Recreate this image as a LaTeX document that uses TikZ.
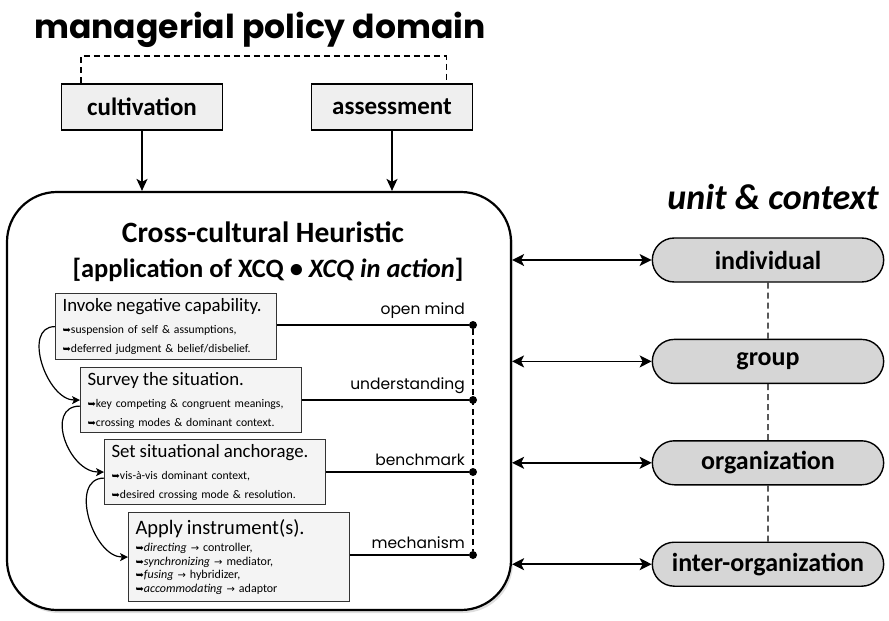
\documentclass[tikz,border=0pt]{standalone}
\usepackage{fontspec}
\setmainfont{Carlito}
\newfontfamily\roundfont{Poppins}
\newfontfamily\dejavu{DejaVu Sans}
\usetikzlibrary{arrows.meta,positioning,shadows,shapes.misc}

\definecolor{panelgray}{HTML}{EFEFEF}
\definecolor{stonegray}{HTML}{D6D6D6}
\newcommand{\hookarr}{{\dejavu\fontsize{10}{10}\selectfont ➥}}
\newcommand{\yields}{{\dejavu\fontsize{10}{10}\selectfont →}}
\newcommand{\steplead}[2][18.8]{{\fontsize{#1}{#1}\selectfont #2}\\[3pt]}

\begin{document}
\begin{tikzpicture}[
  x=1pt, y=-1pt,
  policy/.style={rectangle, draw, line width=1.6pt, fill=panelgray, minimum width=161pt, minimum height=46pt, font=\fontsize{25}{28}\selectfont\bfseries},
  stepbox/.style={rectangle, draw=black!80, line width=1.2pt, fill=panelgray!70, anchor=north west, align=left, text width=207pt, inner xsep=7pt, inner ysep=3pt, font=\fontsize{11.7}{19}\selectfont},
  unit/.style={rounded rectangle, draw, line width=1.4pt, fill=stonegray, minimum width=238pt, minimum height=44pt, font=\fontsize{26}{28}\selectfont\bfseries},
  tag/.style={font=\roundfont\fontsize{15.5}{17}\selectfont, inner sep=1pt},
  heading/.style={font=\roundfont\bfseries\fontsize{33}{36}\selectfont},
  dot/.style={circle, fill, inner sep=0pt, minimum size=8pt},
  link/.style={line width=1.6pt},
  gap/.style={dash pattern=on 6pt off 4pt},
  arr/.style={-{Stealth[length=12pt,width=11pt,inset=3pt]}, line width=1.6pt},
  dblarr/.style={{Stealth[length=12pt,width=12pt,inset=3pt]}-{Stealth[length=12pt,width=12pt,inset=3pt]}, line width=1.6pt},
  flow/.style={-{Stealth[length=8pt,width=8pt,inset=2pt]}, line width=1.2pt}
]
\useasboundingbox (0,0) rectangle (889,621);

% policy domain
\node[heading] (domain) at (260,30) {managerial policy domain};
\node[policy] (cult) at (142,107) {cultivation};
\node[policy] (assess) at (392,107) {assessment};
\draw[link, gap] ([xshift=20pt]cult.north west) -- ++(0,-27) -| ([xshift=-27pt]assess.north east);

% heuristic panel
\node[draw, line width=2.2pt, rounded corners=50pt, minimum width=504pt, minimum height=418pt, fill=white, drop shadow={opacity=0.25, shadow xshift=2pt, shadow yshift=-3pt}] (heur) at (259,401) {};
\node[font=\bfseries\fontsize{29.5}{32}\selectfont] (heurtitle) at (263,232) {Cross-cultural Heuristic};
\node[font=\bfseries\fontsize{26.5}{29}\selectfont] (heursub) at (268,270) {[application of XCQ • \textit{XCQ in action}]};

\draw[arr] (cult) -- (cult |- heur.north);
\draw[arr] (assess) -- (assess |- heur.north);

% steps
\node[stepbox, minimum height=66pt] (invoke) at (55,293) {\steplead{Invoke negative capability.}\hookarr suspension of self \& assumptions,\\\hookarr deferred judgment \& belief/disbelief.};
\node[stepbox, minimum height=65pt] (survey) at (80,367) {\steplead{Survey the situation.}\hookarr key competing \& congruent meanings,\\\hookarr crossing modes \& dominant context.};
\node[stepbox, minimum height=65pt] (anchorage) at (104,439) {\steplead{Set situational anchorage.}\hookarr vis-à-vis dominant context,\\\hookarr desired crossing mode \& resolution.};
\node[stepbox, minimum height=89pt, font=\fontsize{12}{13.6}\selectfont] (apply) at (128,512) {\steplead[20.5]{Apply instrument(s).}\hookarr\textit{directing} \yields{} controller,\\\hookarr\textit{synchronizing} \yields{} mediator,\\\hookarr\textit{fusing} \yields{} hybridizer,\\\hookarr\textit{accommodating} \yields{} adaptor};

\draw[flow] (invoke.west) to[out=180, in=180, looseness=1.1] (survey.west);
\draw[flow] ([yshift=-6pt]survey.west) to[out=180, in=180, looseness=1.3] (anchorage.west);
\draw[flow] ([yshift=-6pt]anchorage.west) to[out=180, in=180, looseness=1.1] (apply.west);

% outcomes
\node[dot] (mind) at (473,325) {};
\node[dot] (underst) at (473,400) {};
\node[dot] (bench) at (473,472) {};
\node[dot] (mech) at (473,555) {};
\draw[link] (invoke.east |- mind) -- (mind);
\draw[link] (survey.east |- underst) -- (underst);
\draw[link] (anchorage.east |- bench) -- (bench);
\draw[link] (apply.east |- mech) -- (mech);
\draw[link, gap] (mind) -- (mech);
\node[tag, above left=2pt and 4pt of mind] {open mind};
\node[tag, above left=2pt and 4pt of underst] {understanding};
\node[tag, above left=2pt and 4pt of bench] {benchmark};
\node[tag, above left=2pt and 4pt of mech] {mechanism};

% unit & context
\node[font=\bfseries\itshape\fontsize{36}{40}\selectfont] (unitctx) at (773,197) {unit \& context};
\node[unit] (indiv) at (768,260) {individual};
\node[unit, below=56pt of indiv] (group) {group};
\node[unit, below=56pt of group] (org) {organization};
\node[unit, below=56pt of org] (interorg) {inter-organization};
\draw[line width=1.3pt, gap] (indiv) -- (group);
\draw[line width=1.3pt, gap] (group) -- (org);
\draw[line width=1.3pt, gap] (org) -- (interorg);

\draw[dblarr] (heur.east |- indiv) -- (indiv);
\draw[dblarr] (heur.east |- group) -- (group);
\draw[dblarr] (heur.east |- org) -- (org);
\draw[dblarr] (heur.east |- interorg) -- (interorg);
\end{tikzpicture}
\end{document}
